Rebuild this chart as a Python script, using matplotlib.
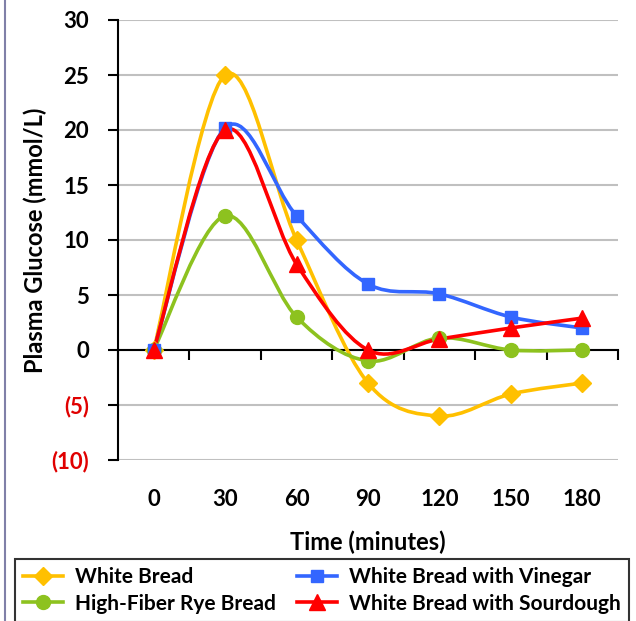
#glucose response chart with smoothed lines
import matplotlib.pyplot as plt
from matplotlib.path import Path
from matplotlib.patches import PathPatch
from matplotlib.lines import Line2D

#data
times = ['0', '30', '60', '90', '120', '150', '180']
white_bread = [0, 25, 10, -3, -6, -4, -3]
rye_bread = [0, 12.2, 3, -1, 1.1, 0, 0]
vinegar = [0, 20.2, 12.2, 6, 5.1, 3, 2]
sourdough = [0, 20, 7.8, 0, 1, 2, 2.9]

series_names = ['White Bread', 'High-Fiber Rye Bread',
                'White Bread with Vinegar', 'White Bread with Sourdough']
series_values = [white_bread, rye_bread, vinegar, sourdough]
colors = ['#FFC000', '#8DC21F', '#3366FF', '#FF0000']
markers = ['D', 'o', 's', '^']
marker_sizes = [9, 10, 8, 11]

plt.rcParams['font.family'] = ['Lato', 'DejaVu Sans']
plt.rcParams['font.weight'] = 'bold'


def smooth_path(xs, ys):
    #cubic bezier segments through every point (catmull-rom style)
    pts = list(zip(xs, ys))
    verts = [pts[0]]
    codes = [Path.MOVETO]
    n = len(pts)
    for i in range(n - 1):
        p0 = pts[i - 1] if i > 0 else pts[i]
        p1 = pts[i]
        p2 = pts[i + 1]
        p3 = pts[i + 2] if i + 2 < n else pts[i + 1]
        c1 = (p1[0] + (p2[0] - p0[0]) / 6, p1[1] + (p2[1] - p0[1]) / 6)
        c2 = (p2[0] - (p3[0] - p1[0]) / 6, p2[1] - (p3[1] - p1[1]) / 6)
        verts += [c1, c2, p2]
        codes += [Path.CURVE4] * 3
    return Path(verts, codes)


fig = plt.figure(figsize=(6.36, 6.21), dpi=100)
ax = fig.add_axes([118 / 636, 1 - 460 / 621, 500 / 636, 440 / 621])

x = list(range(len(times)))
handles = []
for vals, col, mk, ms, name in zip(series_values, colors, markers, marker_sizes, series_names):
    ax.add_patch(PathPatch(smooth_path(x, vals), facecolor='none', edgecolor=col,
                           linewidth=2.6, zorder=3, capstyle='round'))
    ax.plot(x, vals, linestyle='none', marker=mk, markersize=ms, color=col, zorder=4)
    handles.append(Line2D([], [], color=col, linewidth=2.6, marker=mk, markersize=ms, label=name))

ax.set_xlim(-0.5, len(times) - 0.5)
ax.set_ylim(-10, 30)

#y axis
yt = list(range(-10, 31, 5))
ax.set_yticks(yt)
ax.set_yticklabels(['(%d)' % -v if v < 0 else str(v) for v in yt], fontsize=16, fontweight='bold')
for lab, v in zip(ax.get_yticklabels(), yt):
    if v < 0:
        lab.set_color('#E00000')
ax.tick_params(axis='y', direction='out', length=7, width=1.5, pad=14)
ax.yaxis.grid(True, color='#C0C0C0', linewidth=1.5)
ax.set_axisbelow(True)
ax.set_ylabel('Plasma Glucose (mmol/L)', fontsize=17, fontweight='bold', labelpad=3)

#x axis line at zero with ticks between categories
ax.spines['bottom'].set_position(('data', 0))
ax.spines['bottom'].set_linewidth(1.5)
ax.spines['left'].set_linewidth(1.5)
ax.spines['top'].set_visible(False)
ax.spines['right'].set_visible(False)
ax.set_xticks([i - 0.5 for i in range(len(times) + 1)])
ax.set_xticklabels([])
ax.tick_params(axis='x', direction='out', length=7, width=1.5)

#category labels below the plot
sec = ax.secondary_xaxis(0)
sec.set_xticks(x)
sec.set_xticklabels(times, fontsize=16, fontweight='bold')
sec.tick_params(length=0, pad=21)
sec.spines['bottom'].set_visible(False)
sec.set_xlabel('Time (minutes)', fontsize=17, fontweight='bold', labelpad=15)

#legend box
leg = fig.legend(handles=handles, loc='upper left', ncol=2,
                 bbox_to_anchor=(15 / 636, 1 - 559 / 621),
                 fontsize=15, frameon=True, fancybox=False, handlelength=1.9,
                 handletextpad=0.6, borderpad=0.4, borderaxespad=0,
                 labelspacing=0.3, columnspacing=1.0)
leg.get_frame().set_edgecolor('black')
leg.get_frame().set_linewidth(1.5)

#left border line
fig.add_artist(Line2D([5 / 636, 5 / 636], [0, 1], color='#8080A8', linewidth=1.5))

fig.savefig('out.png', dpi=100)
